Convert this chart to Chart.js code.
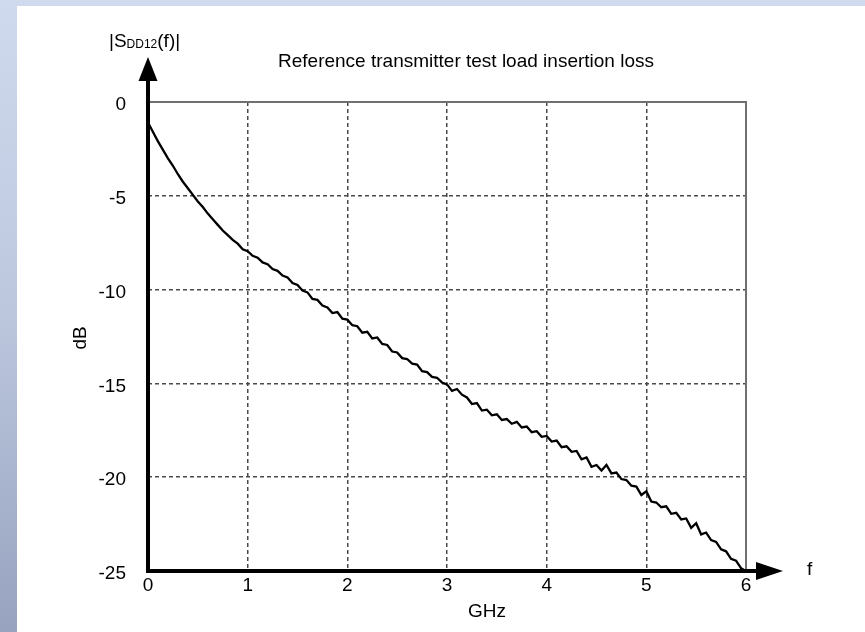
<!DOCTYPE html>
<html><head><meta charset="utf-8">
<script src="https://cdn.jsdelivr.net/npm/chart.js@4.4.0/dist/chart.umd.min.js"></script>
<style>html,body{margin:0;padding:0;background:#fff;overflow:hidden}#wrap{width:865px;height:632px;position:relative}</style>
</head><body><div id="wrap"><canvas id="c" width="865" height="632"></canvas></div>
<script>
const freqGHz = [0.00,0.05,0.10,0.15,0.20,0.25,0.30,0.35,0.40,0.45,0.50,0.55,0.60,0.65,0.70,0.75,0.80,0.85,0.90,0.95,
1.00,1.05,1.10,1.15,1.20,1.25,1.30,1.35,1.40,1.45,1.50,1.55,1.60,1.65,1.70,1.75,1.80,1.85,1.90,1.95,
2.00,2.05,2.10,2.15,2.20,2.25,2.30,2.35,2.40,2.45,2.50,2.55,2.60,2.65,2.70,2.75,2.80,2.85,2.90,2.95,
3.00,3.05,3.10,3.15,3.20,3.25,3.30,3.35,3.40,3.45,3.50,3.55,3.60,3.65,3.70,3.75,3.80,3.85,3.90,3.95,
4.00,4.05,4.10,4.15,4.20,4.25,4.30,4.35,4.40,4.45,4.50,4.55,4.60,4.65,4.70,4.75,4.80,4.85,4.90,4.95,
5.00,5.05,5.10,5.15,5.20,5.25,5.30,5.35,5.40,5.45,5.50,5.55,5.60,5.65,5.70,5.75,5.80,5.85,5.90,5.95,6.00];
const lossDb = [-1.10,-1.60,-2.10,-2.55,-3.00,-3.40,-3.85,-4.25,-4.60,-4.95,-5.30,-5.60,-5.95,-6.25,-6.55,-6.85,-7.10,-7.35,-7.55,-7.85,
-7.95,-8.20,-8.30,-8.55,-8.65,-8.90,-9.00,-9.25,-9.35,-9.65,-9.75,-10.05,-10.15,-10.50,-10.55,-10.85,-10.95,-11.25,-11.20,-11.55,
-11.60,-11.90,-11.95,-12.30,-12.25,-12.60,-12.55,-12.90,-12.95,-13.30,-13.35,-13.65,-13.70,-13.95,-14.00,-14.35,-14.40,-14.65,-14.70,-14.95,
-15.05,-15.40,-15.30,-15.60,-15.75,-16.10,-16.05,-16.45,-16.40,-16.70,-16.65,-16.95,-16.90,-17.15,-17.05,-17.35,-17.30,-17.60,-17.55,-17.85,
-17.80,-18.10,-18.05,-18.40,-18.35,-18.65,-18.60,-19.05,-18.95,-19.45,-19.35,-19.65,-19.35,-19.80,-19.75,-20.10,-20.15,-20.45,-20.50,-20.95,
-20.75,-21.30,-21.35,-21.60,-21.55,-21.95,-21.90,-22.25,-22.20,-22.70,-22.45,-23.05,-22.95,-23.35,-23.45,-23.85,-23.95,-24.35,-24.45,-24.85,-25.00];
const xTicks = [0,1,2,3,4,5,6];
const yTicks = [0,-5,-10,-15,-20,-25];
const chartTitle = 'Reference transmitter test load insertion loss';
const yAxisTitle = 'dB';
const xAxisTitle = 'GHz';
const xArrowLabel = 'f';
const yArrowLabel = ['|S', 'DD12', '(f)|'];

const FONT = '"Liberation Sans", Arial, Helvetica, sans-serif';
const points = freqGHz.map((f, i) => ({x: f, y: lossDb[i]}));

const decor = {
  id: 'decor',
  beforeDraw(chart) {
    const ctx = chart.ctx, W = chart.width, H = chart.height;
    ctx.save();
    ctx.fillStyle = '#ffffff';
    ctx.fillRect(0, 0, W, H);
    ctx.fillStyle = '#cfdaee';
    ctx.fillRect(0, 0, W, 6);
    const g = ctx.createLinearGradient(0, 0, 0, H);
    g.addColorStop(0, '#d0daee');
    g.addColorStop(0.5, '#bcc7de');
    g.addColorStop(1, '#97a3bf');
    ctx.fillStyle = g;
    ctx.fillRect(0, 0, 17, H);
    ctx.restore();
  },
  afterDraw(chart) {
    const ctx = chart.ctx, a = chart.chartArea;
    const xs = chart.scales.x, ys = chart.scales.y;
    const L = xs.getPixelForValue(0), R = xs.getPixelForValue(6);
    const T = ys.getPixelForValue(0), B = ys.getPixelForValue(-25);
    ctx.save();
    // top and right frame
    ctx.strokeStyle = '#707070';
    ctx.lineWidth = 2;
    ctx.beginPath();
    ctx.moveTo(L, T); ctx.lineTo(R, T); ctx.lineTo(R, B);
    ctx.stroke();
    // thick axes
    ctx.strokeStyle = '#000';
    ctx.lineWidth = 4;
    ctx.beginPath();
    ctx.moveTo(L, B + 2); ctx.lineTo(L, 78);
    ctx.moveTo(L - 2, B); ctx.lineTo(758, B);
    ctx.stroke();
    ctx.fillStyle = '#000';
    ctx.beginPath();
    ctx.moveTo(L, 57); ctx.lineTo(L - 9.5, 81); ctx.lineTo(L + 9.5, 81); ctx.closePath();
    ctx.fill();
    ctx.beginPath();
    ctx.moveTo(783, B); ctx.lineTo(756, B - 9); ctx.lineTo(756, B + 9); ctx.closePath();
    ctx.fill();
    // texts
    ctx.fillStyle = '#000';
    ctx.textBaseline = 'alphabetic';
    ctx.font = '19px ' + FONT;
    ctx.textAlign = 'center';
    ctx.fillText(chartTitle, 466, 66.5);
    ctx.fillText(xAxisTitle, 487, 616.5);
    ctx.textAlign = 'left';
    ctx.fillText(xArrowLabel, 807, 575);
    let x = 109;
    ctx.fillText(yArrowLabel[0], x, 46.5);
    x += ctx.measureText(yArrowLabel[0]).width;
    ctx.font = '12px ' + FONT;
    ctx.fillText(yArrowLabel[1], x, 48);
    x += ctx.measureText(yArrowLabel[1]).width;
    ctx.font = '19px ' + FONT;
    ctx.fillText(yArrowLabel[2], x, 46.5);
    ctx.translate(85.5, 338);
    ctx.rotate(-Math.PI / 2);
    ctx.textAlign = 'center';
    ctx.fillText(yAxisTitle, 0, 0);
    ctx.restore();
  }
};

const gridColor = (edgeA, edgeB) => (c) => (c.tick && (c.tick.value === edgeA || c.tick.value === edgeB)) ? 'rgba(0,0,0,0)' : '#4a4a4a';

new Chart(document.getElementById('c'), {
  type: 'scatter',
  data: {
    datasets: [{
      data: points,
      showLine: true,
      borderColor: '#000',
      borderWidth: 2.3,
      pointRadius: 0,
      tension: 0,
      fill: false
    }]
  },
  options: {
    responsive: false,
    animation: false,
    devicePixelRatio: 1,
    layout: { padding: { left: 0, top: 102, right: 119, bottom: 0 } },
    plugins: { legend: { display: false }, tooltip: { enabled: false }, title: { display: false } },
    scales: {
      x: {
        type: 'linear', min: 0, max: 6,
        afterBuildTicks: (s) => { s.ticks = xTicks.map(v => ({value: v})); },
        afterFit: (s) => { s.height = 61; },
        grid: { color: gridColor(0, 6), lineWidth: 1.5, drawTicks: false, borderDash: [4, 3] },
        border: { display: false, dash: [4, 3] },
        ticks: { color: '#000', font: { family: FONT, size: 19 }, padding: 3, maxRotation: 0, autoSkip: false }
      },
      y: {
        type: 'linear', min: -25, max: 0,
        afterBuildTicks: (s) => { s.ticks = yTicks.map(v => ({value: v})); },
        afterFit: (s) => { s.width = 148; },
        grid: { color: gridColor(0, -25), lineWidth: 1.5, drawTicks: false, borderDash: [4, 3] },
        border: { display: false, dash: [4, 3] },
        ticks: { color: '#000', font: { family: FONT, size: 19 }, padding: 22, labelOffset: 3, autoSkip: false }
      }
    }
  },
  plugins: [decor]
});
</script></body></html>
